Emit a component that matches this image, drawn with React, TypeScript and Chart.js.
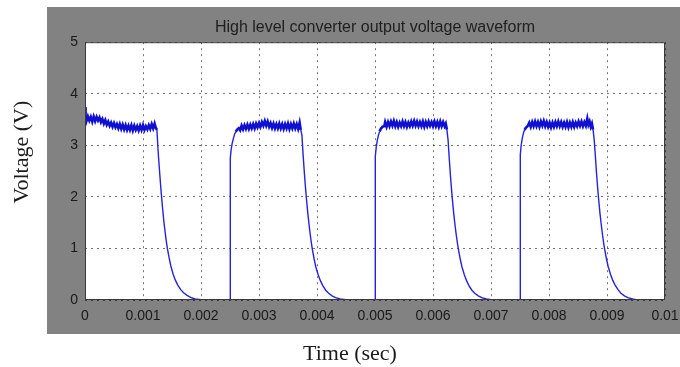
import React, { useEffect, useRef } from "react";
import { Chart, registerables } from "chart.js";

Chart.register(...registerables);

const TITLE = "High level converter output voltage waveform";
const X_LABEL = "Time (sec)";
const Y_LABEL = "Voltage (V)";

const X_MIN = 0;
const X_MAX = 0.01;
const X_STEP = 0.001;
const Y_MIN = 0;
const Y_MAX = 5;
const Y_STEP = 1;

// [time (s), voltage (V)]
const pulse1: [number, number][] = [
  [0, 0], [0, 3.74], [0.00001, 3.55], [0.000025, 3.47], [0.00005, 3.56], [0.000075, 3.48], [0.0001, 3.55],
  [0.000125, 3.46], [0.00015, 3.56], [0.000175, 3.47], [0.0002, 3.55], [0.000225, 3.48], [0.00025, 3.54],
  [0.000275, 3.45], [0.0003, 3.51], [0.000325, 3.42], [0.00035, 3.49], [0.000375, 3.4], [0.0004, 3.46],
  [0.000425, 3.38], [0.00045, 3.44], [0.000475, 3.36], [0.0005, 3.43], [0.000525, 3.35], [0.00055, 3.41],
  [0.000575, 3.33], [0.0006, 3.41], [0.000625, 3.32], [0.00065, 3.4], [0.000675, 3.31], [0.0007, 3.39],
  [0.000725, 3.3], [0.00075, 3.38], [0.000775, 3.3], [0.0008, 3.39], [0.000825, 3.29], [0.00085, 3.38],
  [0.000875, 3.3], [0.0009, 3.37], [0.000925, 3.29], [0.00095, 3.38], [0.000975, 3.3], [0.001, 3.39],
  [0.001025, 3.3], [0.00105, 3.37], [0.001075, 3.31], [0.0011, 3.39], [0.001125, 3.32], [0.00115, 3.41],
  [0.001175, 3.33], [0.0012, 3.42], [0.00122, 3.34], [0.00124, 3.3],
  [0.00126, 2.9], [0.00128, 2.58], [0.0013, 2.28], [0.00132, 2.0], [0.00134, 1.75], [0.00136, 1.52],
  [0.00138, 1.33], [0.0014, 1.15], [0.00142, 1.0], [0.00145, 0.82], [0.00148, 0.66], [0.00152, 0.5],
  [0.00156, 0.38], [0.0016, 0.29], [0.00165, 0.2], [0.0017, 0.14], [0.00176, 0.09], [0.00182, 0.05],
  [0.0019, 0.02], [0.002, 0.005], [0.0021, 0], [0.0025, 0],
];

const pulse2: [number, number][] = [
  [0.0025, 1.1], [0.002505, 2.3], [0.00251, 2.75], [0.00252, 2.92], [0.00254, 3.05], [0.00256, 3.14],
  [0.00258, 3.22], [0.0026, 3.26], [0.00262, 3.3], [0.00265, 3.33],
  [0.002675, 3.29], [0.0027, 3.38], [0.002725, 3.31], [0.00275, 3.39], [0.002775, 3.32], [0.0028, 3.4],
  [0.002825, 3.32], [0.00285, 3.4], [0.002875, 3.33], [0.0029, 3.41], [0.002925, 3.33], [0.00295, 3.42],
  [0.002975, 3.35], [0.003, 3.43], [0.003025, 3.36], [0.00305, 3.45], [0.003075, 3.38], [0.0031, 3.47],
  [0.003125, 3.38], [0.00315, 3.46], [0.003175, 3.36], [0.0032, 3.43], [0.003225, 3.34], [0.00325, 3.42],
  [0.003275, 3.33], [0.0033, 3.41], [0.003325, 3.33], [0.00335, 3.42], [0.003375, 3.33], [0.0034, 3.41],
  [0.003425, 3.32], [0.00345, 3.41], [0.003475, 3.33], [0.0035, 3.42], [0.003525, 3.32], [0.00355, 3.41],
  [0.003575, 3.33], [0.0036, 3.42], [0.003625, 3.33], [0.00365, 3.41], [0.003675, 3.32], [0.0037, 3.44],
  [0.00372, 3.3], [0.00374, 3.2],
  [0.00376, 2.82], [0.00378, 2.5], [0.0038, 2.2], [0.00382, 1.94], [0.00384, 1.7], [0.00386, 1.49],
  [0.00388, 1.3], [0.0039, 1.13], [0.00392, 0.98], [0.00395, 0.8], [0.00398, 0.64], [0.00402, 0.49],
  [0.00406, 0.37], [0.0041, 0.28], [0.00415, 0.19], [0.0042, 0.13], [0.00426, 0.08], [0.00432, 0.045],
  [0.0044, 0.02], [0.0045, 0.005], [0.0046, 0], [0.005, 0],
];

const pulse3: [number, number][] = [
  [0.005, 1.2], [0.005005, 2.4], [0.00501, 2.78], [0.00502, 2.95], [0.00504, 3.1], [0.00506, 3.2],
  [0.00508, 3.27], [0.0051, 3.32], [0.00513, 3.36], [0.00516, 3.37],
  [0.005175, 3.45], [0.0052, 3.36], [0.005225, 3.45], [0.00525, 3.37], [0.005275, 3.46], [0.0053, 3.38],
  [0.005325, 3.47], [0.00535, 3.37], [0.005375, 3.45], [0.0054, 3.36], [0.005425, 3.44], [0.00545, 3.37],
  [0.005475, 3.46], [0.0055, 3.37], [0.005525, 3.45], [0.00555, 3.36], [0.005575, 3.44], [0.0056, 3.37],
  [0.005625, 3.46], [0.00565, 3.38], [0.005675, 3.47], [0.0057, 3.38], [0.005725, 3.46], [0.00575, 3.37],
  [0.005775, 3.45], [0.0058, 3.37], [0.005825, 3.46], [0.00585, 3.36], [0.005875, 3.45], [0.0059, 3.37],
  [0.005925, 3.46], [0.00595, 3.38], [0.005975, 3.45], [0.006, 3.37], [0.006025, 3.46], [0.00605, 3.37],
  [0.006075, 3.45], [0.0061, 3.36], [0.006125, 3.46], [0.00615, 3.37], [0.006175, 3.45], [0.0062, 3.37],
  [0.00622, 3.42], [0.00624, 3.3], [0.00626, 3.1],
  [0.00628, 2.75], [0.0063, 2.42], [0.00632, 2.14], [0.00634, 1.88], [0.00636, 1.65], [0.00638, 1.45],
  [0.0064, 1.27], [0.00642, 1.11], [0.00644, 0.97], [0.00647, 0.79], [0.0065, 0.64], [0.00654, 0.49],
  [0.00658, 0.37], [0.00662, 0.28], [0.00667, 0.19], [0.00672, 0.13], [0.00678, 0.08], [0.00684, 0.045],
  [0.00692, 0.02], [0.007, 0.005], [0.0071, 0], [0.0075, 0],
];

const pulse4: [number, number][] = [
  [0.0075, 1.3], [0.007505, 2.5], [0.00751, 2.82], [0.00752, 3.0], [0.00754, 3.14], [0.00756, 3.24],
  [0.00758, 3.3], [0.0076, 3.34], [0.00763, 3.37],
  [0.00766, 3.44], [0.007685, 3.36], [0.00771, 3.45], [0.007735, 3.37], [0.00776, 3.46], [0.007785, 3.37],
  [0.00781, 3.45], [0.007835, 3.36], [0.00786, 3.46], [0.007885, 3.38], [0.00791, 3.47], [0.007935, 3.37],
  [0.00796, 3.45], [0.007985, 3.36], [0.00801, 3.44], [0.008035, 3.35], [0.00806, 3.44], [0.008085, 3.36],
  [0.00811, 3.45], [0.008135, 3.37], [0.00816, 3.46], [0.008185, 3.37], [0.00821, 3.45], [0.008235, 3.36],
  [0.00826, 3.44], [0.008285, 3.36], [0.00831, 3.45], [0.008335, 3.35], [0.00836, 3.44], [0.008385, 3.36],
  [0.00841, 3.45], [0.008435, 3.36], [0.00846, 3.44], [0.008485, 3.37], [0.00851, 3.46], [0.008535, 3.38],
  [0.00856, 3.46], [0.008585, 3.37], [0.00861, 3.45], [0.008635, 3.38], [0.00866, 3.52], [0.00868, 3.4],
  [0.0087, 3.46], [0.00872, 3.36], [0.00874, 3.42], [0.00876, 3.3], [0.00878, 3.1],
  [0.0088, 2.78], [0.00882, 2.45], [0.00884, 2.16], [0.00886, 1.9], [0.00888, 1.67], [0.0089, 1.47],
  [0.00892, 1.29], [0.00894, 1.12], [0.00896, 0.98], [0.00899, 0.8], [0.00902, 0.65], [0.00906, 0.5],
  [0.0091, 0.38], [0.00914, 0.29], [0.00919, 0.2], [0.00924, 0.13], [0.0093, 0.08], [0.00936, 0.045],
  [0.00944, 0.02], [0.0095, 0.008], [0.00958, 0],
];

const waveform = [...pulse1, ...pulse2, ...pulse3, ...pulse4];

const panelPlugin = {
  id: "matlabPanel",
  beforeDraw(chart: any) {
    const { ctx, chartArea, width, height } = chart;
    ctx.save();
    ctx.fillStyle = "#ffffff";
    ctx.fillRect(0, 0, width, height);
    ctx.fillStyle = "#828282";
    const pLeft = chartArea.left - 38;
    const pTop = 7;
    const pBottom = chartArea.bottom + 34;
    ctx.fillRect(pLeft, pTop, width - pLeft, pBottom - pTop);
    ctx.fillStyle = "#ffffff";
    ctx.fillRect(chartArea.left, chartArea.top, chartArea.right - chartArea.left, chartArea.bottom - chartArea.top);
    ctx.restore();
  },
  afterDatasetsDraw(chart: any) {
    const { ctx, chartArea } = chart;
    ctx.save();
    ctx.strokeStyle = "#3a3a3a";
    ctx.lineWidth = 1;
    ctx.strokeRect(chartArea.left + 0.5, chartArea.top + 0.5, chartArea.right - chartArea.left - 1, chartArea.bottom - chartArea.top - 1);
    ctx.restore();
  },
  afterDraw(chart: any) {
    const { ctx, chartArea } = chart;
    ctx.save();
    ctx.fillStyle = "#1a1a1a";
    ctx.font = '22px "Liberation Serif", "Times New Roman", serif';
    ctx.textAlign = "center";
    ctx.textBaseline = "middle";
    ctx.fillText(X_LABEL, chartArea.left + 265, chartArea.bottom + 54);
    ctx.translate(chartArea.left - 63, chartArea.top + 110);
    ctx.rotate(-Math.PI / 2);
    ctx.fillText(Y_LABEL, 0, 0);
    ctx.restore();
  },
};

const tickFont = { family: '"Liberation Sans", Arial, sans-serif', size: 14 };

export default function App() {
  const ref = useRef<HTMLCanvasElement>(null);
  useEffect(() => {
    const chart = new Chart(ref.current as HTMLCanvasElement, {
      type: "line",
      data: {
        datasets: [
          {
            data: waveform.map(([x, y]) => ({ x, y })),
            borderColor: "#2323dc",
            borderWidth: 1.4,
            pointRadius: 0,
            tension: 0,
            fill: false,
            segment: {
              borderWidth: (c: any) => (c.p0.parsed.y > 3.25 && c.p1.parsed.y > 3.25 ? 2.6 : 1.4),
              borderColor: (c: any) => (c.p0.parsed.y > 3.25 && c.p1.parsed.y > 3.25 ? "#1010d2" : "#2323dc"),
            },
          },
        ],
      },
      options: {
        animation: false,
        responsive: false,
        layout: { padding: { left: 0, right: 15, top: 0, bottom: 0 } },
        plugins: {
          legend: { display: false },
          tooltip: { enabled: false },
          title: {
            display: true,
            text: TITLE,
            fullSize: false,
            color: "#1e1e1e",
            font: { family: '"Liberation Sans", Arial, sans-serif', size: 16, weight: "normal" },
            padding: { top: 18, bottom: 5 },
          },
        },
        scales: {
          x: {
            type: "linear",
            min: X_MIN,
            max: X_MAX,
            afterFit: (s: any) => { s.height = 67; s.paddingRight = 0; },
            ticks: {
              stepSize: X_STEP,
              autoSkip: false,
              maxRotation: 0,
              color: "#1a1a1a",
              font: tickFont,
              padding: 8,
              callback: (v: any) => String(Number(Number(v).toFixed(4))),
            },
            grid: { color: "rgba(0,0,0,0.55)", lineWidth: 1, drawTicks: false },
            border: { display: false, dash: [2, 4] },
          },
          y: {
            type: "linear",
            min: Y_MIN,
            max: Y_MAX,
            afterFit: (s: any) => { s.width = 85; },
            ticks: {
              stepSize: Y_STEP,
              color: "#1a1a1a",
              font: tickFont,
              padding: 7,
            },
            grid: { color: "rgba(0,0,0,0.55)", lineWidth: 1, drawTicks: false },
            border: { display: false, dash: [2, 4] },
          },
        },
      },
      plugins: [panelPlugin],
    } as any);
    return () => chart.destroy();
  }, []);
  return (
    <div style={{ position: "absolute", left: 0, top: 0, width: 680, height: 367 }}>
      <canvas ref={ref} width={680} height={367} style={{ display: "block" }} />
    </div>
  );
}
